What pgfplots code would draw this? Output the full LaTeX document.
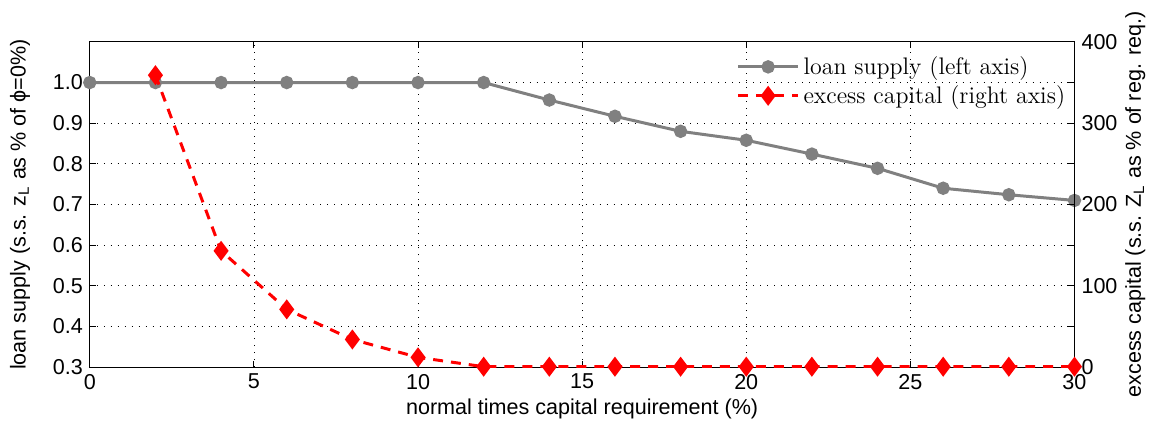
\documentclass[border=0pt]{standalone}
\usepackage{pgfplots}
\pgfplotsset{compat=1.18}
\usepackage{fontspec}
\setmainfont{Liberation Sans}
\newfontfamily\lmr{Latin Modern Roman}
\definecolor{lgray}{RGB}{128,128,128}
\pgfplotstableread{
x y
0 1.000
2 1.000
4 1.000
6 1.000
8 1.000
10 1.000
12 1.000
14 0.957
16 0.917
18 0.880
20 0.858
22 0.824
24 0.789
26 0.740
28 0.724
30 0.710
}\loantable
\pgfplotstableread{
x y
2 359
4 143
6 71
8 34
10 12
12 0.5
14 0.5
16 0.5
18 0.5
20 0.5
22 0.5
24 0.5
26 0.5
28 0.5
30 0.5
}\captable
\begin{document}
\begin{tikzpicture}
\pgfplotsset{
  common/.style={
    scale only axis, width=493.5pt, height=163pt,
    xmin=0, xmax=30,
    tick align=inside,
    major tick length=3pt,
    tick style={black, line width=0.5pt},
    axis line style={black, line width=0.6pt},
    tick label style={font=\fontsize{10.8}{12}\selectfont},
    label style={font=\fontsize{10.8}{12}\selectfont},
    /pgf/number format/assume math mode=true,
    legend image code/.code={\draw[mark repeat=2,mark phase=2] plot coordinates {(0pt,0pt) (15pt,0pt) (30pt,0pt)};},
  }
}
\begin{axis}[common,
  ymin=0.3, ymax=1.1,
  xtick={0,5,10,15,20,25,30},
  ytick={0.3,0.4,0.5,0.6,0.7,0.8,0.9,1.0},
  yticklabel style={/pgf/number format/fixed,/pgf/number format/fixed zerofill,/pgf/number format/precision=1},
  xtick pos=both, ytick pos=both,
  xmajorgrids, ymajorgrids,
  major grid style={black, line width=0.4pt, dash pattern=on 0.5pt off 3pt},
  xlabel={normal times capital requirement (\%)},
  xlabel style={at={(axis description cs:0.5,-0.129)}, anchor=center},
  ylabel={loan supply (s.s. z\textsubscript{L} as \% of ϕ=0\%)},
  ylabel style={at={(axis description cs:-0.0709,0.5)}, anchor=center},
]
\coordinate (bl) at (rel axis cs:0,0);
\coordinate (tr) at (rel axis cs:1,1);
\addplot[lgray, line width=1.5pt, mark=*, mark size=2.6pt, mark options={fill=lgray, draw=lgray}] table[x=x,y=y] {\loantable};
\end{axis}
\begin{axis}[common,
  ymin=0, ymax=400,
  ytick={0,100,200,300,400},
  axis y line*=right, axis x line=none,
  ylabel={excess capital (s.s. Z\textsubscript{L} as \% of reg. req.)},
  ylabel style={at={(axis description cs:1.0618,0.5)}, anchor=center},
  legend style={at={(rel axis cs:0.997,0.975)}, anchor=north east, draw=none, fill=none,
    font=\lmr\fontsize{12}{14}\selectfont, row sep=0pt, inner sep=1pt},
  legend cell align=left,
]
\addlegendimage{lgray, line width=1.5pt, mark=*, mark size=2.6pt, mark options={fill=lgray, draw=lgray}}
\addlegendentry{loan supply (left axis)}
\addplot[red, line width=1.5pt, dash pattern=on 5pt off 4pt, mark=diamond*, mark size=3.8pt, mark options={solid, fill=red, draw=red}] table[x=x,y=y] {\captable};
\addlegendentry{excess capital (right axis)}
\end{axis}
\path[use as bounding box] ([xshift=-45pt,yshift=-29pt]bl) rectangle ([xshift=37.5pt,yshift=21pt]tr);
\end{tikzpicture}
\end{document}
